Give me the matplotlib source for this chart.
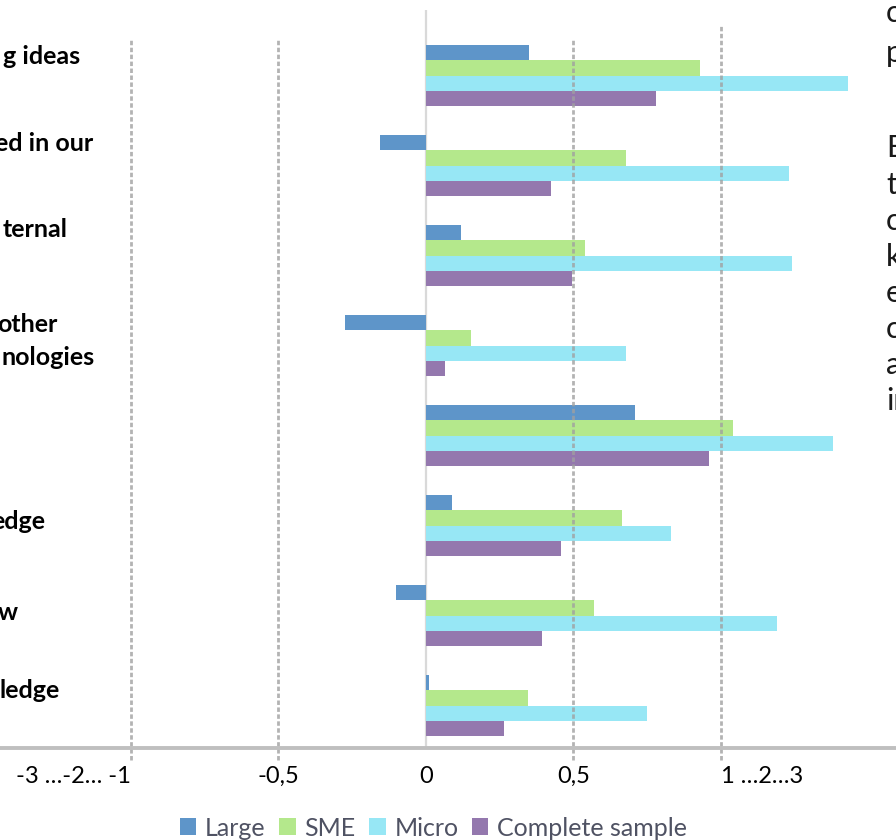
import numpy as np
import matplotlib
matplotlib.use('Agg')
import matplotlib.pyplot as plt
from matplotlib.patches import Patch
from matplotlib.transforms import blended_transform_factory

plt.rcParams['font.family'] = ['Lato', 'DejaVu Sans']

# data (8 statements, top to bottom)
series = ['Large', 'SME', 'Micro', 'Complete sample']
large = [0.35, -0.155, 0.12, -0.275, 0.71, 0.09, -0.10, 0.01]
sme = [0.93, 0.68, 0.54, 0.155, 1.04, 0.665, 0.57, 0.345]
micro = [1.43, 1.23, 1.24, 0.68, 1.38, 0.83, 1.19, 0.75]
complete = [0.78, 0.425, 0.495, 0.066, 0.96, 0.46, 0.395, 0.265]
colors = ['#5e95c9', '#b4e88c', '#97e7f5', '#9478ae']

tick_vals = [-1, -0.5, 0, 0.5, 1]
tick_labels = ['-3 \u2026-2\u2026 -1', '-0,5', '0', '0,5', '1 \u20262\u20263']

# cut-off category label fragments (visible part only)
cat_text = ['g ideas', 'ed in our', 'ternal', 'other', 'nologies', 'edge', 'w', 'ledge']
cat_y = [-0.21, 0.75, 1.71, 2.77, 3.13, 4.95, 5.96, 6.83]
cat_right = [80, 93, 68, 57, 95, 45, 18, 60]

# cut-off paragraph text at the right edge
side_text = ['c', 'p', 'E', 't', 'c', 'k', 'e', 'c', 'a', 'in']
side_base = [22, 62, 157, 194, 230, 266, 302, 338, 374, 410]

W, H = 896, 840
fig = plt.figure(figsize=(W / 100, H / 100), dpi=100)
ax = fig.add_axes([0, (H - 748) / H, 1, (748 - 10) / H])

n = len(large)
y = np.arange(n)
h = 0.169
for k, vals in enumerate([large, sme, micro, complete]):
    ax.barh(y + (k - 1.5) * h, vals, height=h, color=colors[k], zorder=2)

ax.set_xlim(-1.443, 1.594)
ax.set_ylim(7.47, -0.73)

# dashed gridlines, drawn over the bars
grid_top = [0.962, 0.962, None, 0.962, 0.98]
for v, top in zip(tick_vals, grid_top):
    if top is None:
        continue
    ax.axvline(v, ymin=-0.0163, ymax=top, color='#a0a0a0', alpha=0.8,
               lw=2.0, ls=(0, (1.6, 0.9)), zorder=3, clip_on=False)
ax.axvline(0, color='#d9d9d9', lw=1.6, zorder=1)

for s in ['top', 'right', 'left']:
    ax.spines[s].set_visible(False)
ax.spines['bottom'].set_color('#bfbfbf')
ax.spines['bottom'].set_linewidth(2.8)
ax.spines['bottom'].set_zorder(4)

ax.set_yticks([])
ax.set_xticks(tick_vals)
ax.set_xticklabels(tick_labels, fontsize=17, color='black')
ax.tick_params(axis='x', length=0, pad=13)
tl = ax.get_xticklabels()
tl[0].set_ha('right')
tl[-1].set_ha('left')

tr = blended_transform_factory(fig.transFigure, ax.transData)
for t, yy, r in zip(cat_text, cat_y, cat_right):
    ax.text(r / W, yy, t, transform=tr, ha='right', va='center',
            fontsize=18, fontweight='bold', color='black')

for t, b in zip(side_text, side_base):
    fig.text(886 / W, 1 - b / H, t, ha='left', va='baseline',
             fontsize=22, color='#1a1a1a')

handles = [Patch(facecolor=c, edgecolor='none') for c in colors]
fig.legend(handles, series, loc='center', bbox_to_anchor=(0.484, 1 - 828 / H),
           ncol=4, frameon=False, fontsize=18, labelcolor='#4f5263',
           handlelength=0.65, handleheight=0.65, handletextpad=0.35,
           columnspacing=0.55, borderpad=0)

fig.savefig('out.png', dpi=100)
